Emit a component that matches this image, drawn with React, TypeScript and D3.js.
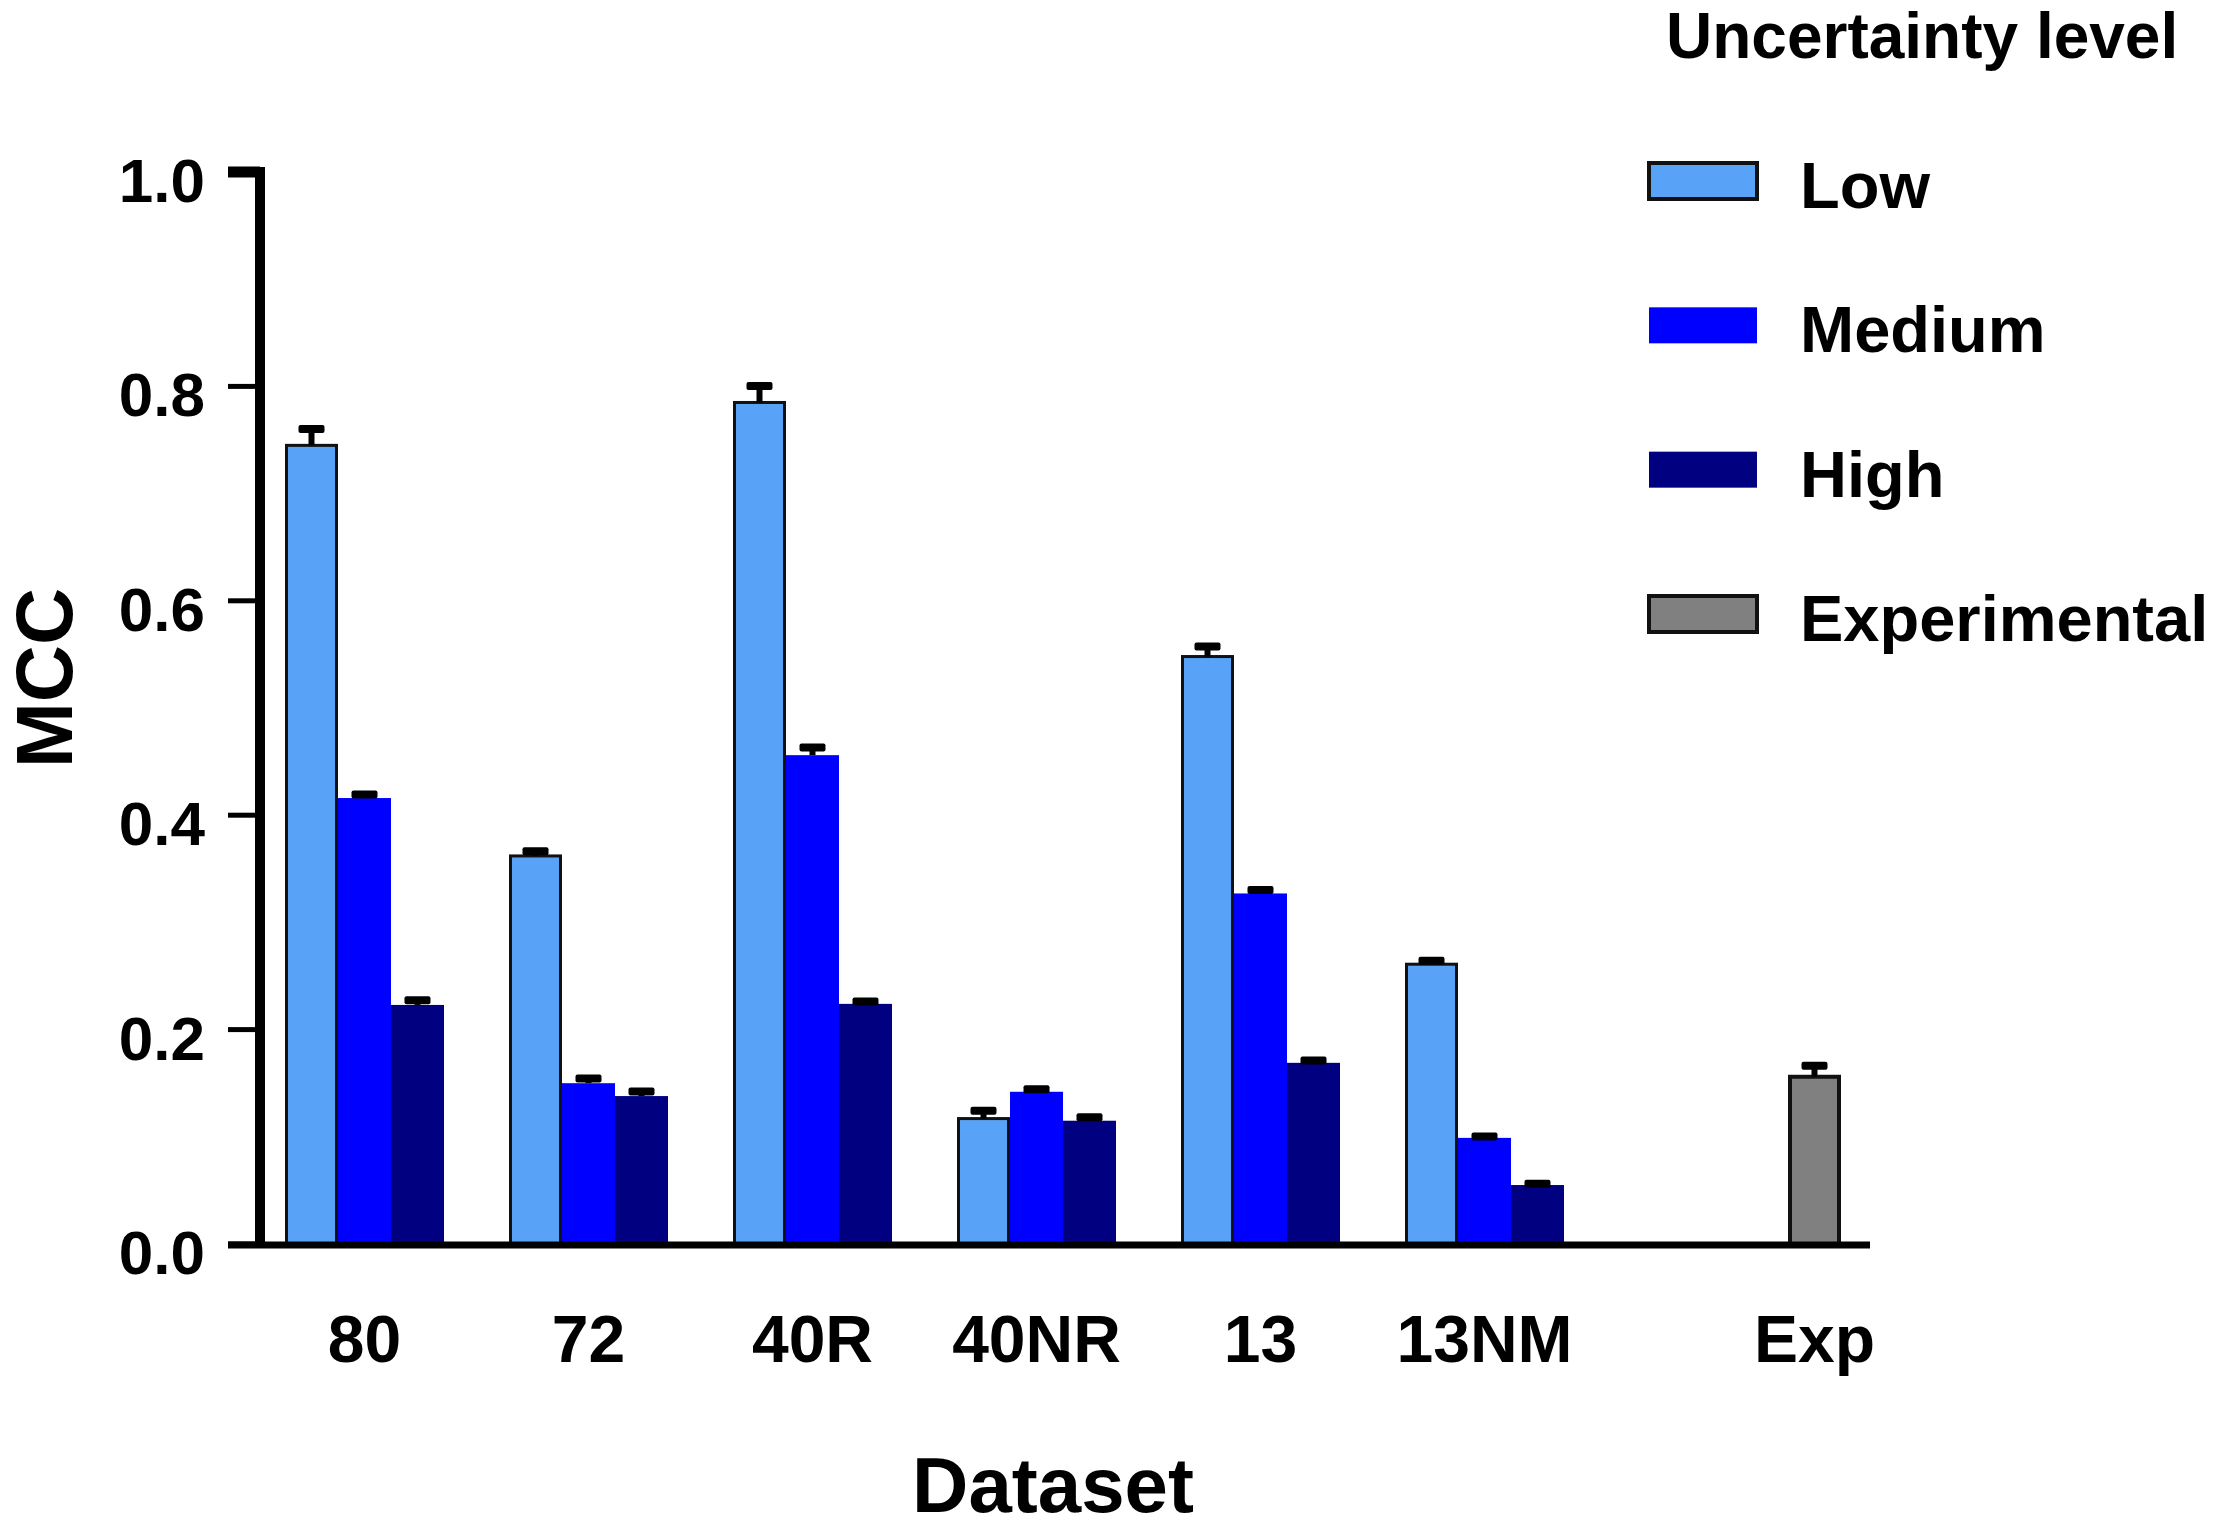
import React from 'react'
import * as d3 from 'd3'

// MCC by dataset and uncertainty level (mean, and upper error = mean + sem)
const categories = ['80', '72', '40R', '40NR', '13', '13NM', 'Exp']
const seriesNames = ['Low', 'Medium', 'High', 'Experimental']
const seriesColors = ['#58a2f7', '#0000fe', '#000080', '#808080']
const seriesOutlined = [true, false, false, true]

const lowMean = [0.745, 0.362, 0.785, 0.117, 0.548, 0.261, null]
const lowSem = [0.019, 0.008, 0.019, 0.011, 0.013, 0.007, null]
const mediumMean = [0.416, 0.15, 0.456, 0.142, 0.327, 0.099, null]
const mediumSem = [0.007, 0.008, 0.011, 0.006, 0.007, 0.005, null]
const highMean = [0.223, 0.138, 0.224, 0.115, 0.169, 0.055, null]
const highSem = [0.008, 0.008, 0.006, 0.007, 0.006, 0.005, null]
const expMean = [null, null, null, null, null, null, 0.156]
const expSem = [null, null, null, null, null, null, 0.014]

const yTicks = [0, 0.2, 0.4, 0.6, 0.8, 1.0]
const yLabel = 'MCC'
const xLabel = 'Dataset'
const legendTitle = 'Uncertainty level'

const W = 2214
const H = 1528
const FONT = '"Liberation Sans", Arial, Helvetica, sans-serif'

export default function App() {
  const means = [lowMean, mediumMean, highMean, expMean]
  const sems = [lowSem, mediumSem, highSem, expSem]

  const y = d3.scaleLinear().domain([0, 1]).range([1244, 172])

  const x0 = d3
    .scaleBand<string>()
    .domain(categories)
    .range([285, 1841])
    .paddingInner(0.0536)
    .paddingOuter(0)

  const x1 = d3
    .scaleBand<string>()
    .domain(seriesNames)
    .range([0, x0.bandwidth()])
    .padding(0)

  const bw = x1.bandwidth()
  const axisX = 260

  // bars present per category
  const bars = categories.flatMap((c, ci) =>
    seriesNames
      .map((s, si) => ({ c, s, si, v: means[si][ci], e: sems[si][ci] }))
      .filter((d) => d.v !== null),
  ) as { c: string; s: string; si: number; v: number; e: number }[]

  // labels sit under the bars actually drawn in each group
  const labelX = (c: string) => {
    const xs = bars
      .filter((b) => b.c === c)
      .map((b) => (x0(c) || 0) + (x1(b.s) || 0) + bw / 2)
    return d3.mean(xs) || 0
  }

  const legendY = d3
    .scalePoint<string>()
    .domain(seriesNames)
    .range([181, 614])

  return (
    <svg
      width={W}
      height={H}
      style={{ position: 'absolute', left: 0, top: 0, background: '#fff' }}
      fontFamily={FONT}
      fontWeight="bold"
    >
      <rect x={0} y={0} width={W} height={H} fill="#fff" />

      {/* bars */}
      {bars.map((b, i) => {
        const bx = (x0(b.c) || 0) + (x1(b.s) || 0)
        const top = y(b.v)
        const base = y(0)
        const outlined = seriesOutlined[b.si]
        const sw = b.si === 3 ? 4 : 3
        return (
          <g key={i}>
            {outlined ? (
              <rect
                x={bx + sw / 2}
                y={top}
                width={bw - sw}
                height={base - top}
                fill={seriesColors[b.si]}
                stroke="#111"
                strokeWidth={sw}
              />
            ) : (
              <rect
                x={bx}
                y={top}
                width={bw}
                height={base - top}
                fill={seriesColors[b.si]}
              />
            )}
            {/* error bar (upper only) */}
            <line
              x1={bx + bw / 2}
              x2={bx + bw / 2}
              y1={top}
              y2={y(b.v + b.e) + 4}
              stroke="#000"
              strokeWidth={6}
            />
            <rect
              x={bx + bw / 2 - 13}
              y={y(b.v + b.e)}
              width={26}
              height={8}
              rx={2}
              fill="#000"
            />
          </g>
        )
      })}

      {/* y axis */}
      <line x1={axisX} x2={axisX} y1={y(1) - 5} y2={y(0) + 4} stroke="#000" strokeWidth={10} />
      {yTicks.map((t) => (
        <g key={t}>
          <line
            x1={228}
            x2={axisX}
            y1={y(t)}
            y2={y(t)}
            stroke="#000"
            strokeWidth={t === 1 ? 11 : 5}
          />
          <text x={205} y={y(t) + 30} textAnchor="end" fontSize={62} fill="#000">
            {t.toFixed(1)}
          </text>
        </g>
      ))}

      {/* x axis */}
      <line x1={228} x2={1870} y1={y(0) + 1} y2={y(0) + 1} stroke="#000" strokeWidth={7} />
      {categories.map((c) => (
        <text key={c} x={labelX(c)} y={1362} textAnchor="middle" fontSize={66} fill="#000">
          {c}
        </text>
      ))}

      {/* axis titles */}
      <text x={1053} y={1512} textAnchor="middle" fontSize={78} fill="#000">
        {xLabel}
      </text>
      <text
        transform={`translate(72, ${678}) rotate(-90)`}
        textAnchor="middle"
        fontSize={79}
        fill="#000"
      >
        {yLabel}
      </text>

      {/* legend */}
      <text x={1666} y={58} fontSize={64} fill="#000">
        {legendTitle}
      </text>
      {seriesNames.map((s, si) => {
        const cy = legendY(s) || 0
        return (
          <g key={s}>
            <rect
              x={1649}
              y={cy - 18}
              width={108}
              height={36}
              fill={seriesColors[si]}
              stroke={seriesOutlined[si] ? '#111' : 'none'}
              strokeWidth={seriesOutlined[si] ? 4 : 0}
            />
            <text x={1800} y={cy + 27} fontSize={65} fill="#000">
              {s}
            </text>
          </g>
        )
      })}
    </svg>
  )
}
